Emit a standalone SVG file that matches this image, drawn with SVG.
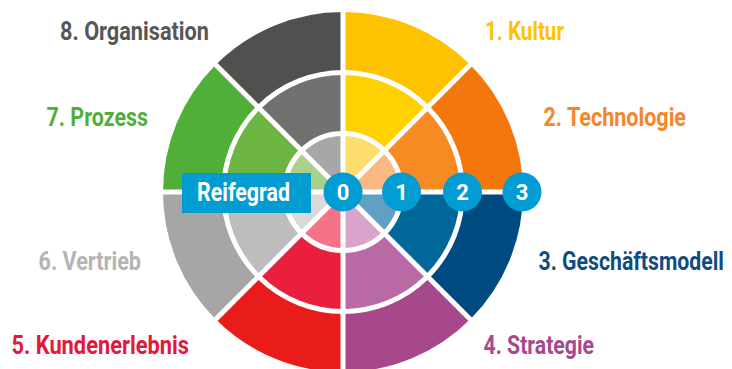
<svg xmlns="http://www.w3.org/2000/svg" width="732" height="369" viewBox="0 0 732 369">
  <style>
    .lbl { font-family: Roboto, "Liberation Sans", sans-serif; font-weight: 700; font-size: 25px; }
    .num { font-family: Roboto, "Liberation Sans", sans-serif; font-weight: 700; font-size: 22px; fill: #ffffff; text-anchor: middle; }
    .sep { stroke: #ffffff; stroke-width: 5; fill: none; }
    .badge { fill: #009cd2; }
  </style>
  <rect width="732" height="369" fill="#ffffff"/>

  <!-- maturity wheel: eight 45° sectors, three rings each -->
  <g id="sector-kultur">
    <path d="M343 192 L343 12 A180 180 0 0 1 470.28 64.72 Z" fill="#fdc300"/>
    <path d="M343 192 L343 72.5 A119.5 119.5 0 0 1 427.5 107.5 Z" fill="#ffd100"/>
    <path d="M343 192 L343 133.5 A58.5 58.5 0 0 1 384.37 150.63 Z" fill="#fddd6c"/>
  </g>
  <g id="sector-technologie">
    <path d="M343 192 L470.28 64.72 A180 180 0 0 1 523 192 Z" fill="#f3770c"/>
    <path d="M343 192 L427.5 107.5 A119.5 119.5 0 0 1 462.5 192 Z" fill="#f68a23"/>
    <path d="M343 192 L384.37 150.63 A58.5 58.5 0 0 1 401.5 192 Z" fill="#fab882"/>
  </g>
  <g id="sector-geschaeftsmodell">
    <path d="M343 192 L523 192 A180 180 0 0 1 470.28 319.28 Z" fill="#004a82"/>
    <path d="M343 192 L462.5 192 A119.5 119.5 0 0 1 427.5 276.5 Z" fill="#006798"/>
    <path d="M343 192 L401.5 192 A58.5 58.5 0 0 1 384.37 233.37 Z" fill="#5fa0c4"/>
  </g>
  <g id="sector-strategie">
    <path d="M343 192 L470.28 319.28 A180 180 0 0 1 343 372 Z" fill="#a7488b"/>
    <path d="M343 192 L427.5 276.5 A119.5 119.5 0 0 1 343 311.5 Z" fill="#b96aa5"/>
    <path d="M343 192 L384.37 233.37 A58.5 58.5 0 0 1 343 250.5 Z" fill="#d8a4cc"/>
  </g>
  <g id="sector-kundenerlebnis">
    <path d="M343 192 L343 372 A180 180 0 0 1 215.72 319.28 Z" fill="#e91b1b"/>
    <path d="M343 192 L343 311.5 A119.5 119.5 0 0 1 258.5 276.5 Z" fill="#ea1f3d"/>
    <path d="M343 192 L343 250.5 A58.5 58.5 0 0 1 301.63 233.37 Z" fill="#f47389"/>
  </g>
  <g id="sector-vertrieb">
    <path d="M343 192 L215.72 319.28 A180 180 0 0 1 163 192 Z" fill="#a5a7a6"/>
    <path d="M343 192 L258.5 276.5 A119.5 119.5 0 0 1 223.5 192 Z" fill="#bdbdbd"/>
    <path d="M343 192 L301.63 233.37 A58.5 58.5 0 0 1 284.5 192 Z" fill="#d9d9d9"/>
  </g>
  <g id="sector-prozess">
    <path d="M343 192 L163 192 A180 180 0 0 1 215.72 64.72 Z" fill="#51ae38"/>
    <path d="M343 192 L223.5 192 A119.5 119.5 0 0 1 258.5 107.5 Z" fill="#6cb543"/>
    <path d="M343 192 L284.5 192 A58.5 58.5 0 0 1 301.63 150.63 Z" fill="#a8d18c"/>
  </g>
  <g id="sector-organisation">
    <path d="M343 192 L215.72 64.72 A180 180 0 0 1 343 12 Z" fill="#50504e"/>
    <path d="M343 192 L258.5 107.5 A119.5 119.5 0 0 1 343 72.5 Z" fill="#72716f"/>
    <path d="M343 192 L301.63 150.63 A58.5 58.5 0 0 1 343 133.5 Z" fill="#a8a7a7"/>
  </g>

  <!-- white separators: ring borders and sector spokes -->
  <g id="connectors">
    <circle class="sep" cx="343" cy="192" r="58.5"/>
    <circle class="sep" cx="343" cy="192" r="119.5"/>
    <line class="sep" x1="343" y1="10" x2="343" y2="374"/>
    <line class="sep" x1="161" y1="192" x2="525" y2="192"/>
    <line class="sep" x1="214.3" y1="63.3" x2="471.7" y2="320.7"/>
    <line class="sep" x1="471.7" y1="63.3" x2="214.3" y2="320.7"/>
  </g>

  <!-- maturity scale -->
  <g id="reifegrad">
    <rect class="badge" x="182" y="173" width="129" height="40"/>
    <text class="lbl" x="197" y="201" font-size="21.5" fill="#ffffff" textLength="93" lengthAdjust="spacingAndGlyphs">Reifegrad</text>
  </g>
  <g id="level-0"><circle class="badge" cx="343" cy="192" r="19.5"/><text class="num" x="343" y="200">0</text></g>
  <g id="level-1"><circle class="badge" cx="401.5" cy="192" r="19.5"/><text class="num" x="401.5" y="200">1</text></g>
  <g id="level-2"><circle class="badge" cx="462.5" cy="192" r="19.5"/><text class="num" x="462.5" y="200">2</text></g>
  <g id="level-3"><circle class="badge" cx="522" cy="192" r="19.5"/><text class="num" x="522" y="200">3</text></g>

  <!-- dimension labels -->
  <g id="label-kultur"><text class="lbl" x="485" y="40" fill="#fdc300" textLength="79" lengthAdjust="spacingAndGlyphs">1. Kultur</text></g>
  <g id="label-technologie"><text class="lbl" x="543.5" y="126" fill="#f5862a" textLength="142.5" lengthAdjust="spacingAndGlyphs">2. Technologie</text></g>
  <g id="label-geschaeftsmodell"><text class="lbl" transform="translate(538.5 270) scale(0.85 1)" x="0" y="0" fill="#0f4c81" textLength="218.2" lengthAdjust="spacingAndGlyphs">3. Geschäftsmodell</text></g>
  <g id="label-strategie"><text class="lbl" x="483.5" y="353.5" fill="#a6498c" textLength="110.5" lengthAdjust="spacingAndGlyphs">4. Strategie</text></g>
  <g id="label-kundenerlebnis"><text class="lbl" x="11.5" y="354" fill="#e4173d" textLength="177.5" lengthAdjust="spacingAndGlyphs">5. Kundenerlebnis</text></g>
  <g id="label-vertrieb"><text class="lbl" x="38.5" y="270" fill="#b4b4b4" textLength="102.5" lengthAdjust="spacingAndGlyphs">6. Vertrieb</text></g>
  <g id="label-prozess"><text class="lbl" x="46.5" y="125.5" fill="#52ae3a" textLength="101.5" lengthAdjust="spacingAndGlyphs">7. Prozess</text></g>
  <g id="label-organisation"><text class="lbl" x="60" y="40" fill="#575756" textLength="149" lengthAdjust="spacingAndGlyphs">8. Organisation</text></g>
</svg>
